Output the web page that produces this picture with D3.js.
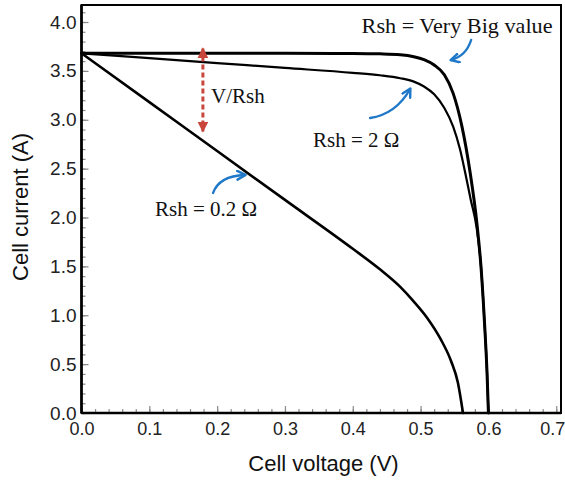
<!DOCTYPE html>
<html><head><meta charset="utf-8">
<script src="https://cdn.jsdelivr.net/npm/d3@7"></script>
<style>body{margin:0;background:#fff} svg{display:block}</style>
</head><body><svg id="c" width="565" height="481"></svg>
<script>
// ---- data ----
const xTicks = [0, 0.1, 0.2, 0.3, 0.4, 0.5, 0.6, 0.7];
const yTicks = [0, 0.5, 1.0, 1.5, 2.0, 2.5, 3.0, 3.5, 4.0];
const xMinor = d3.range(0, 0.7001, 0.02);
const yMinor = d3.range(0, 4.1001, 0.1);

// Rsh = Very Big value
const bigV = [0, 0.1, 0.2, 0.3, 0.4, 0.44, 0.47, 0.49, 0.505, 0.52, 0.535, 0.548, 0.561, 0.573, 0.583, 0.589, 0.594, 0.598, 0.600];
const bigI = [3.68, 3.68, 3.68, 3.68, 3.678, 3.674, 3.665, 3.645, 3.615, 3.56, 3.46, 3.27, 2.93, 2.46, 1.94, 1.50, 0.95, 0.40, 0.0];
// Rsh = 2 ohm
const r2V = [0, 0.1, 0.2, 0.3, 0.4, 0.44, 0.47, 0.49, 0.505, 0.52, 0.535, 0.548, 0.558, 0.566, 0.574, 0.5825, 0.589, 0.594, 0.598, 0.600];
const r2I = [3.68, 3.63, 3.58, 3.53, 3.48, 3.455, 3.425, 3.39, 3.34, 3.26, 3.12, 2.93, 2.70, 2.45, 2.18, 1.90, 1.50, 0.95, 0.40, 0.0];
// Rsh = 0.2 ohm
const r02V = [0, 0.1, 0.2, 0.3, 0.4, 0.44, 0.47, 0.49, 0.51, 0.53, 0.545, 0.555, 0.5625];
const r02I = [3.68, 3.18, 2.68, 2.18, 1.68, 1.47, 1.29, 1.14, 0.97, 0.75, 0.53, 0.31, 0.0];

const labelTexts = ["Rsh = Very Big value", "V/Rsh", "Rsh = 2 \u03A9", "Rsh = 0.2 \u03A9"];
const labelPos = [[0.413, 3.888], [0.191, 3.171], [0.3414, 2.721], [0.1084, 2.015]];
// blue curved arrows: start, control, end (data units)
const blueArrows = [
  [[0.5745, 3.816], [0.567, 3.652], [0.545, 3.611]],
  [[0.4255, 3.018], [0.4639, 3.059], [0.4845, 3.315]],
  [[0.194, 2.251], [0.2028, 2.425], [0.2411, 2.435]]
];
const redArrow = {v: 0.179, top: 3.73, bottom: 2.88};

// ---- chart ----
const svg = d3.select("#c");
svg.append("rect").attr("width", 565).attr("height", 481).attr("fill", "#fff");
const x = d3.scaleLinear().domain([0, 0.707]).range([81.5, 561]);
const y = d3.scaleLinear().domain([0, 4.174]).range([413, 5]);
const tickCol = "#8a8a8a";

function styleAxis(g) {
  g.select(".domain").remove();
  g.selectAll(".tick line").attr("stroke", tickCol).attr("stroke-width", 1.2);
}
svg.append("g").attr("transform", "translate(0,413)")
  .call(d3.axisBottom(x).tickValues(xMinor).tickSize(-4).tickFormat(""))
  .call(styleAxis);
svg.append("g").attr("transform", "translate(81.5,0)")
  .call(d3.axisLeft(y).tickValues(yMinor).tickSize(-4).tickFormat(""))
  .call(styleAxis);
const xa = svg.append("g").attr("transform", "translate(0,413)")
  .call(d3.axisBottom(x).tickValues(xTicks).tickSize(-7).tickPadding(9).tickFormat(d3.format(".1f")))
  .call(styleAxis);
xa.selectAll("text").attr("font-family", "'Liberation Sans', Arial, sans-serif").attr("font-size", 18).attr("fill", "#222")
  .attr("dx", d => d === 0.7 ? -4 : 0);
const ya = svg.append("g").attr("transform", "translate(81.5,0)")
  .call(d3.axisLeft(y).tickValues(yTicks).tickSize(-7).tickPadding(5).tickFormat(d3.format(".1f")))
  .call(styleAxis);
ya.selectAll("text").attr("font-family", "'Liberation Sans', Arial, sans-serif").attr("font-size", 19).attr("fill", "#222");

// frame
svg.append("rect").attr("x", x(0)).attr("y", y(4.174)).attr("width", x(0.707) - x(0)).attr("height", y(0) - y(4.174))
  .attr("fill", "none").attr("stroke", "#000").attr("stroke-width", 2);
svg.append("line").attr("x1", x(0)).attr("x2", x(0)).attr("y1", y(4.174)).attr("y2", y(0)).attr("stroke", "#000").attr("stroke-width", 2.6);
svg.append("line").attr("x1", x(0)).attr("x2", x(0.707)).attr("y1", y(0)).attr("y2", y(0)).attr("stroke", "#000").attr("stroke-width", 2.6);

// curves
const line = d3.line().x(d => x(d[0])).y(d => y(d[1])).curve(d3.curveMonotoneX);
const series = [
  {v: r02V, i: r02I, w: 2.6},
  {v: r2V, i: r2I, w: 2.2},
  {v: bigV, i: bigI, w: 3.0}
];
series.forEach(s => {
  svg.append("path").datum(s.v.map((v, k) => [v, s.i[k]]))
    .attr("d", line).attr("fill", "none").attr("stroke", "#000").attr("stroke-width", s.w)
    .attr("stroke-linejoin", "round").attr("stroke-linecap", "round");
});

// markers
const defs = svg.append("defs");
defs.append("marker").attr("id", "bh").attr("viewBox", "0 0 10 10").attr("refX", 8).attr("refY", 5)
  .attr("markerWidth", 11).attr("markerHeight", 11).attr("markerUnits", "userSpaceOnUse").attr("orient", "auto")
  .append("path").attr("d", "M1,1 L8.5,5 L1,9").attr("fill", "none").attr("stroke", "#1f78c8").attr("stroke-width", 2.2)
  .attr("stroke-linecap", "round").attr("stroke-linejoin", "round");
defs.append("marker").attr("id", "rh").attr("viewBox", "0 0 10 10").attr("refX", 9).attr("refY", 5)
  .attr("markerWidth", 11).attr("markerHeight", 11).attr("markerUnits", "userSpaceOnUse").attr("orient", "auto-start-reverse")
  .append("path").attr("d", "M0,0 L10,5 L0,10 Z").attr("fill", "#c8463c");

// red dashed arrow
svg.append("line").attr("x1", x(redArrow.v)).attr("x2", x(redArrow.v))
  .attr("y1", y(redArrow.top)).attr("y2", y(redArrow.bottom))
  .attr("stroke", "#c8463c").attr("stroke-width", 3).attr("stroke-dasharray", "5,3")
  .attr("marker-start", "url(#rh)").attr("marker-end", "url(#rh)");

// blue arrows
blueArrows.forEach(a => {
  const [s, c, e] = a;
  svg.append("path").attr("d", `M${x(s[0])},${y(s[1])} Q${x(c[0])},${y(c[1])} ${x(e[0])},${y(e[1])}`)
    .attr("fill", "none").attr("stroke", "#1f78c8").attr("stroke-width", 2.4).attr("stroke-linecap", "round")
    .attr("marker-end", "url(#bh)");
});

// serif labels
labelTexts.forEach((t, k) => {
  const tx = svg.append("text").attr("x", x(labelPos[k][0])).attr("y", y(labelPos[k][1]))
    .attr("font-family", "'Liberation Serif', 'Times New Roman', serif").attr("font-size", 21)
    .attr("fill", "#111").text(t);
  if (k === 0) tx.attr("textLength", 191).attr("lengthAdjust", "spacingAndGlyphs");
});

// axis titles
svg.append("text").attr("x", 323.5).attr("y", 471).attr("text-anchor", "middle")
  .attr("font-family", "'Liberation Sans', Arial, sans-serif").attr("font-size", 22).attr("fill", "#111")
  .text("Cell voltage (V)");
svg.append("text").attr("transform", "translate(28,207) rotate(-90)").attr("text-anchor", "middle")
  .attr("font-family", "'Liberation Sans', Arial, sans-serif").attr("font-size", 22).attr("fill", "#111")
  .text("Cell current (A)");
</script></body></html>
